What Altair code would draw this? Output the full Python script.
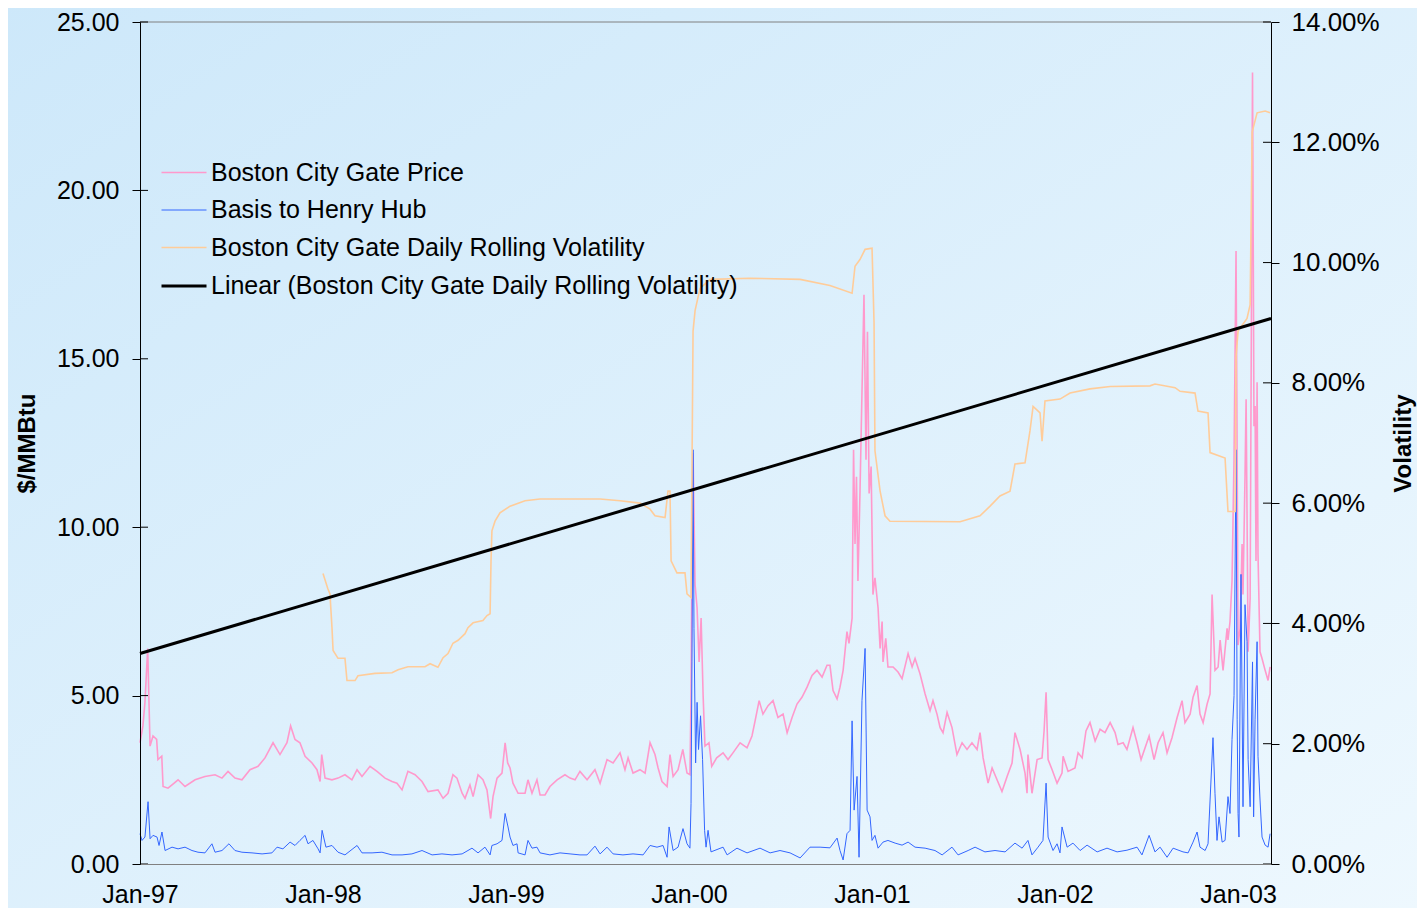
import altair as alt
import pandas as pd

W, H = 1131, 842
X_START, X_END = 1997.0, 2003.18

SERIES = [
    "Boston City Gate Price",
    "Basis to Henry Hub",
    "Boston City Gate Daily Rolling Volatility",
    "Linear (Boston City Gate Daily Rolling Volatility)",
]
COLORS = ["#ff99cc", "#3366ff", "#ffcc99", "#000000"]
WIDTHS = [1.6, 1.0, 1.6, 3.0]

X_TICKS = [1997, 1998, 1999, 2000, 2001, 2002, 2003]
LEFT_TICKS = [0, 5, 10, 15, 20, 25]
RIGHT_TICKS = [0, 2, 4, 6, 8, 10, 12, 14]

# Boston City Gate Price ($/MMBtu), time in decimal years
PRICE_T = [1997.000, 1997.016, 1997.027, 1997.042, 1997.055, 1997.071, 1997.091, 1997.098, 1997.119, 1997.126,
           1997.153, 1997.175, 1997.208, 1997.246, 1997.301, 1997.355, 1997.410, 1997.448, 1997.481, 1997.519,
           1997.557, 1997.601, 1997.645, 1997.683, 1997.727, 1997.765, 1997.803, 1997.823, 1997.847, 1997.874,
           1997.902, 1997.940, 1997.967, 1997.984, 1997.993, 1998.011, 1998.049, 1998.082, 1998.120, 1998.158,
           1998.186, 1998.213, 1998.257, 1998.295, 1998.339, 1998.377, 1998.404, 1998.432, 1998.464, 1998.503,
           1998.541, 1998.574, 1998.628, 1998.656, 1998.683, 1998.710, 1998.732, 1998.760, 1998.776, 1998.803,
           1998.820, 1998.847, 1998.874, 1998.896, 1998.916, 1998.929, 1998.951, 1998.978, 1998.995, 1999.009,
           1999.022, 1999.038, 1999.066, 1999.104, 1999.120, 1999.142, 1999.169, 1999.186, 1999.213, 1999.240,
           1999.279, 1999.322, 1999.350, 1999.377, 1999.404, 1999.443, 1999.486, 1999.514, 1999.552, 1999.585,
           1999.623, 1999.650, 1999.667, 1999.694, 1999.732, 1999.760, 1999.787, 1999.814, 1999.831, 1999.852,
           1999.880, 1999.896, 1999.913, 1999.940, 1999.966, 1999.989, 2000.005, 2000.011, 2000.016, 2000.022,
           2000.033, 2000.044, 2000.055, 2000.066, 2000.077, 2000.087, 2000.109, 2000.124, 2000.151, 2000.186,
           2000.213, 2000.240, 2000.279, 2000.317, 2000.344, 2000.361, 2000.383, 2000.404, 2000.432, 2000.459,
           2000.486, 2000.514, 2000.536, 2000.563, 2000.590, 2000.617, 2000.645, 2000.672, 2000.699, 2000.727,
           2000.754, 2000.770, 2000.787, 2000.809, 2000.825, 2000.842, 2000.863, 2000.874, 2000.891, 2000.899,
           2000.907, 2000.915, 2000.923, 2000.934, 2000.945, 2000.956, 2000.967, 2000.975, 2000.984, 2000.995,
           2001.005, 2001.016, 2001.033, 2001.044, 2001.055, 2001.060, 2001.075, 2001.087, 2001.115, 2001.142,
           2001.164, 2001.197, 2001.219, 2001.235, 2001.262, 2001.290, 2001.317, 2001.333, 2001.355, 2001.372,
           2001.388, 2001.410, 2001.437, 2001.464, 2001.492, 2001.519, 2001.546, 2001.574, 2001.590, 2001.607,
           2001.634, 2001.656, 2001.683, 2001.710, 2001.738, 2001.765, 2001.781, 2001.809, 2001.836, 2001.847,
           2001.852, 2001.874, 2001.902, 2001.929, 2001.940, 2001.951, 2001.962, 2001.984, 2002.011, 2002.038,
           2002.044, 2002.071, 2002.109, 2002.126, 2002.148, 2002.169, 2002.191, 2002.219, 2002.246, 2002.273,
           2002.301, 2002.328, 2002.344, 2002.372, 2002.393, 2002.426, 2002.448, 2002.470, 2002.492, 2002.514,
           2002.541, 2002.563, 2002.590, 2002.612, 2002.639, 2002.667, 2002.694, 2002.710, 2002.738, 2002.754,
           2002.776, 2002.792, 2002.809, 2002.831, 2002.847, 2002.858, 2002.874, 2002.891, 2002.902, 2002.918,
           2002.940, 2002.945, 2002.956, 2002.967, 2002.978, 2002.989, 2002.995, 2003.000, 2003.011, 2003.022,
           2003.027, 2003.038, 2003.044, 2003.055, 2003.066, 2003.079, 2003.087, 2003.093, 2003.098, 2003.104,
           2003.109, 2003.120, 2003.131, 2003.148, 2003.164, 2003.175]
PRICE_V = [3.6, 4.1, 4.8, 6.4, 3.5, 3.8, 3.7, 3.1, 3.2, 2.3,
           2.25, 2.35, 2.5, 2.3, 2.5, 2.6, 2.65, 2.55, 2.75, 2.55,
           2.5, 2.8, 2.9, 3.15, 3.6, 3.25, 3.6, 4.1, 3.7, 3.6,
           3.2, 3.0, 2.8, 2.45, 3.25, 2.55, 2.5, 2.55, 2.65, 2.5,
           2.8, 2.6, 2.9, 2.75, 2.55, 2.45, 2.4, 2.2, 2.75, 2.65,
           2.45, 2.15, 2.2, 1.95, 2.1, 2.65, 2.55, 2.1, 1.95, 2.35,
           2.0, 2.65, 2.5, 2.2, 1.35, 2.0, 2.55, 2.7, 3.6, 3.0,
           2.85, 2.4, 2.1, 2.1, 2.5, 2.1, 2.5, 2.05, 2.05, 2.3,
           2.5, 2.65, 2.55, 2.5, 2.75, 2.5, 2.8, 2.4, 3.1, 3.0,
           3.3, 2.8, 3.15, 2.7, 2.8, 2.7, 3.6, 3.25, 2.85, 2.45,
           2.3, 3.25, 2.6, 2.8, 3.4, 2.7, 2.65, 5.0, 9.0, 12.2,
           8.3, 7.6, 6.0, 7.3, 5.0, 3.5, 3.6, 2.9, 3.15, 3.3,
           3.1, 3.3, 3.6, 3.45, 3.8, 4.25, 4.85, 4.45, 4.7, 4.85,
           4.35, 4.45, 3.9, 4.35, 4.75, 4.95, 5.25, 5.6, 5.75, 5.55,
           5.9, 5.9, 5.15, 4.9, 5.25, 5.75, 6.9, 6.55, 7.3, 12.3,
           9.5, 11.5, 8.4, 11.0, 14.0, 16.9, 12.0, 15.8, 11.0, 11.8,
           8.0, 8.5, 7.6, 6.4, 7.2, 6.0, 6.7, 5.85, 5.85, 5.7,
           5.5, 6.25, 5.85, 6.1, 5.65, 5.05, 4.55, 4.85, 4.45, 4.05,
           3.9, 4.5, 4.05, 3.25, 3.6, 3.4, 3.6, 3.4, 3.9, 3.15,
           2.4, 2.85, 2.5, 2.15, 2.6, 3.0, 3.9, 3.4, 2.7, 2.1,
           3.25, 2.1, 3.1, 3.15, 3.95, 5.1, 3.1, 2.8, 2.4, 2.7,
           3.2, 2.75, 2.85, 3.3, 3.15, 3.95, 4.2, 3.65, 4.0, 3.9,
           4.2, 3.9, 3.55, 3.6, 3.4, 4.05, 3.6, 3.1, 3.45, 3.8,
           3.1, 3.6, 3.9, 3.3, 3.75, 4.35, 4.85, 4.2, 4.45, 4.95,
           5.3, 4.45, 4.2, 4.75, 5.05, 8.0, 5.75, 5.85, 6.65, 5.75,
           7.0, 6.65, 7.2, 8.4, 12.0, 18.2, 12.0, 6.5, 7.0, 9.5,
           8.0, 11.5, 13.8, 6.3, 7.9, 23.5, 13.0, 13.6, 9.0, 14.3,
           9.2, 6.3, 6.1, 5.75, 5.45, 5.85]

# Basis to Henry Hub ($/MMBtu)
BASIS_T = [1997.000, 1997.011, 1997.027, 1997.044, 1997.055, 1997.071, 1997.093, 1997.104, 1997.120, 1997.137,
           1997.175, 1997.208, 1997.246, 1997.284, 1997.317, 1997.355, 1997.393, 1997.410, 1997.448, 1997.486,
           1997.519, 1997.557, 1997.612, 1997.667, 1997.721, 1997.749, 1997.781, 1997.820, 1997.847, 1997.874,
           1997.902, 1997.918, 1997.945, 1997.973, 1997.984, 1997.995, 1998.016, 1998.049, 1998.082, 1998.120,
           1998.186, 1998.213, 1998.268, 1998.322, 1998.377, 1998.432, 1998.486, 1998.541, 1998.596, 1998.650,
           1998.705, 1998.760, 1998.814, 1998.847, 1998.885, 1998.913, 1998.923, 1998.951, 1998.978, 1998.995,
           1999.011, 1999.022, 1999.038, 1999.060, 1999.066, 1999.104, 1999.120, 1999.142, 1999.169, 1999.186,
           1999.240, 1999.295, 1999.350, 1999.404, 1999.443, 1999.486, 1999.514, 1999.552, 1999.585, 1999.639,
           1999.694, 1999.749, 1999.787, 1999.825, 1999.858, 1999.880, 1999.891, 1999.913, 1999.940, 1999.967,
           1999.989, 2000.005, 2000.011, 2000.016, 2000.022, 2000.027, 2000.036, 2000.044, 2000.052, 2000.063,
           2000.074, 2000.085, 2000.093, 2000.104, 2000.120, 2000.186, 2000.208, 2000.262, 2000.317, 2000.388,
           2000.443, 2000.497, 2000.552, 2000.607, 2000.661, 2000.716, 2000.770, 2000.809, 2000.825, 2000.842,
           2000.863, 2000.880, 2000.891, 2000.902, 2000.918, 2000.929, 2000.945, 2000.962, 2000.973, 2000.989,
           2001.000, 2001.016, 2001.033, 2001.060, 2001.087, 2001.126, 2001.164, 2001.197, 2001.235, 2001.290,
           2001.344, 2001.383, 2001.437, 2001.470, 2001.525, 2001.563, 2001.617, 2001.672, 2001.727, 2001.781,
           2001.820, 2001.852, 2001.874, 2001.907, 2001.934, 2001.951, 2001.962, 2001.989, 2002.011, 2002.027,
           2002.038, 2002.066, 2002.098, 2002.137, 2002.175, 2002.230, 2002.284, 2002.339, 2002.393, 2002.448,
           2002.475, 2002.514, 2002.546, 2002.574, 2002.612, 2002.645, 2002.699, 2002.727, 2002.754, 2002.776,
           2002.792, 2002.820, 2002.836, 2002.863, 2002.874, 2002.885, 2002.896, 2002.913, 2002.929, 2002.945,
           2002.956, 2002.967, 2002.978, 2002.989, 2002.995, 2003.000, 2003.005, 2003.016, 2003.027, 2003.038,
           2003.049, 2003.055, 2003.066, 2003.079, 2003.085, 2003.093, 2003.104, 2003.109, 2003.120, 2003.131,
           2003.148, 2003.164, 2003.175]
BASIS_V = [0.9, 0.7, 0.8, 1.85, 0.75, 0.85, 0.8, 0.55, 0.95, 0.4,
           0.5, 0.45, 0.5, 0.4, 0.35, 0.33, 0.6, 0.35, 0.4, 0.6,
           0.4, 0.35, 0.33, 0.3, 0.33, 0.5, 0.45, 0.65, 0.55, 0.7,
           0.85, 0.6, 0.7, 0.45, 0.33, 1.0, 0.5, 0.55, 0.35, 0.27,
           0.55, 0.33, 0.33, 0.35, 0.27, 0.27, 0.3, 0.4, 0.27, 0.3,
           0.27, 0.3, 0.47, 0.33, 0.5, 0.27, 0.55, 0.6, 0.7, 1.5,
           1.1, 0.8, 0.55, 0.6, 0.33, 0.27, 0.7, 0.47, 0.5, 0.33,
           0.27, 0.33, 0.3, 0.27, 0.27, 0.53, 0.3, 0.5, 0.3, 0.27,
           0.3, 0.27, 0.55, 0.5, 0.55, 0.2, 1.1, 0.4, 0.5, 1.05,
           0.6, 0.47, 1.8, 6.0, 12.3, 7.0, 3.0, 4.8, 3.4, 4.4,
           3.1, 1.0, 0.5, 1.0, 0.36, 0.5, 0.27, 0.47, 0.33, 0.47,
           0.33, 0.4, 0.33, 0.18, 0.5, 0.5, 0.48, 0.77, 0.4, 0.12,
           0.9, 1.0, 4.25, 1.6, 2.6, 0.2, 4.85, 6.4, 1.6, 1.4,
           0.7, 0.85, 0.47, 0.65, 0.7, 0.62, 0.56, 0.65, 0.5, 0.47,
           0.4, 0.27, 0.5, 0.27, 0.4, 0.5, 0.36, 0.4, 0.36, 0.62,
           0.47, 0.7, 0.27, 0.5, 0.7, 2.4, 0.8, 0.4, 0.6, 0.33,
           1.1, 0.5, 0.62, 0.4, 0.56, 0.36, 0.47, 0.36, 0.41, 0.5,
           0.27, 0.85, 0.36, 0.5, 0.2, 0.47, 0.36, 0.33, 0.65, 0.95,
           0.5, 0.4, 0.6, 3.75, 2.1, 0.7, 1.4, 0.65, 0.7, 2.0,
           1.5, 3.7, 5.0, 12.3, 4.3, 1.5, 0.8, 8.6, 1.7, 7.7,
           6.6, 3.1, 1.7, 6.0, 1.4, 4.3, 6.6, 3.2, 1.9, 0.8,
           0.56, 0.5, 0.9]

# Boston City Gate Daily Rolling Volatility (%)
VOL_T = [1998.000, 1998.026, 1998.038, 1998.049, 1998.055, 1998.082, 1998.120, 1998.131, 1998.175, 1998.191,
         1998.284, 1998.377, 1998.410, 1998.464, 1998.557, 1998.585, 1998.628, 1998.656, 1998.683, 1998.710,
         1998.738, 1998.776, 1998.792, 1998.820, 1998.874, 1998.896, 1998.913, 1998.918, 1998.923, 1998.940,
         1998.967, 1999.022, 1999.104, 1999.186, 1999.514, 1999.623, 1999.732, 1999.787, 1999.814, 1999.869,
         1999.885, 1999.896, 1999.902, 1999.934, 1999.978, 1999.989, 2000.011, 2000.016, 2000.022, 2000.033,
         2000.060, 2000.115, 2000.333, 2000.607, 2000.770, 2000.891, 2000.907, 2000.934, 2000.962, 2001.000,
         2001.011, 2001.016, 2001.044, 2001.071, 2001.098, 2001.481, 2001.590, 2001.645, 2001.699, 2001.754,
         2001.781, 2001.836, 2001.863, 2001.880, 2001.918, 2001.929, 2001.945, 2002.027, 2002.082, 2002.191,
         2002.301, 2002.519, 2002.546, 2002.656, 2002.683, 2002.765, 2002.781, 2002.836, 2002.847, 2002.929,
         2002.945, 2002.984, 2002.989, 2003.000, 2003.049, 2003.066, 2003.077, 2003.104, 2003.148, 2003.175]
VOL_V = [4.83, 4.58, 4.49, 3.93, 3.55, 3.42, 3.42, 3.05, 3.05, 3.13,
         3.17, 3.18, 3.23, 3.28, 3.28, 3.33, 3.27, 3.43, 3.50, 3.67,
         3.72, 3.83, 3.93, 4.01, 4.05, 4.13, 4.16, 5.04, 5.54, 5.70,
         5.84, 5.95, 6.04, 6.07, 6.07, 6.04, 6.00, 5.90, 5.79, 5.76,
         6.20, 6.20, 5.04, 4.84, 4.84, 4.49, 4.43, 6.50, 8.86, 9.20,
         9.57, 9.72, 9.74, 9.72, 9.62, 9.49, 9.94, 10.05, 10.22, 10.24,
         9.00, 6.87, 6.20, 5.79, 5.70, 5.69, 5.79, 5.95, 6.12, 6.20,
         6.65, 6.67, 7.20, 7.61, 7.50, 7.03, 7.70, 7.73, 7.83, 7.90,
         7.94, 7.95, 7.98, 7.92, 7.86, 7.83, 7.53, 7.50, 6.84, 6.75,
         5.86, 5.86, 8.44, 8.86, 9.07, 9.30, 12.17, 12.49, 12.52, 12.49]

# Linear trend of the volatility (%)
TREND_T = [1997.0, 2003.18]
TREND_V = [3.50, 9.07]


def frame(ts, vs, name):
    return pd.DataFrame({"year": ts, "value": vs, "series": name})


price_df = frame(PRICE_T, PRICE_V, SERIES[0])
basis_df = frame(BASIS_T, BASIS_V, SERIES[1])
vol_df = frame(VOL_T, VOL_V, SERIES[2])
trend_df = frame(TREND_T, TREND_V, SERIES[3])

FONT = "Liberation Sans"

x_enc = alt.X(
    "year:Q",
    scale=alt.Scale(domain=[X_START, X_END], nice=False, zero=False),
    axis=alt.Axis(orient="bottom", values=X_TICKS,
                  labelExpr="'Jan-' + substring(toString(datum.value), 2, 4)",
                  ticks=False, domainColor="#808080", labelFontSize=25, labelPadding=18,
                  labelFont=FONT, labelColor="black", grid=False, zindex=1, labelFlush=False),
    title=None,
)

y_left = alt.Y(
    "value:Q",
    scale=alt.Scale(domain=[0, 25], nice=False),
    axis=alt.Axis(orient="left", values=LEFT_TICKS, format=".2f", title="$/MMBtu",
                  titleFontSize=24, titleFontWeight="bold", titleFont=FONT, titlePadding=17,
                  labelFontSize=25, labelFont=FONT, labelPadding=13, labelColor="black",
                  tickSize=8, tickColor="black", domainColor="black", grid=False, zindex=1),
)

y_right = alt.Y(
    "value:Q",
    scale=alt.Scale(domain=[0, 14], nice=False),
    axis=alt.Axis(orient="right", values=RIGHT_TICKS,
                  labelExpr="format(datum.value, '.2f') + '%'", title="Volatility",
                  titleAngle=270, titleBaseline="top", titleFontSize=24, titleFontWeight="bold",
                  titleFont=FONT, titlePadding=12, labelFontSize=26, labelFont=FONT, labelPadding=12,
                  labelColor="black", tickSize=8, tickColor="black", domainColor="black",
                  grid=False, zindex=1),
)

legend_spec = alt.Legend(orient="none", legendX=20, legendY=127, title=None, symbolType="stroke",
                         symbolSize=2025, labelFontSize=25, labelFont=FONT, labelColor="black",
                         labelLimit=1000, labelOffset=3, rowPadding=1, padding=0)

color_enc = alt.Color("series:N", scale=alt.Scale(domain=SERIES, range=COLORS), legend=legend_spec)
width_enc = alt.StrokeWidth("series:N",
                            scale=alt.Scale(type="ordinal", domain=SERIES, range=WIDTHS),
                            legend=legend_spec)

one_row = pd.DataFrame({"k": [0]})

background = alt.Chart(one_row).mark_rect(
    fill={"gradient": "linear", "x1": 0, "y1": 0, "x2": 1, "y2": 1,
          "stops": [{"offset": 0, "color": "#cde8fa"}, {"offset": 1, "color": "#eef8fe"}]}
).encode(x=alt.value(-140), x2=alt.value(W + 150), y=alt.value(-22), y2=alt.value(H + 50))

top_border = alt.Chart(one_row).mark_rule(color="#808080", strokeWidth=1).encode(
    x=alt.value(0), x2=alt.value(W), y=alt.value(0))


def series_line(df):
    return alt.Chart(df).mark_line().encode(x=x_enc, color=color_enc, strokeWidth=width_enc)


price = series_line(price_df).encode(y=y_left)
basis = series_line(basis_df).encode(y=y_left)
left_inner_ticks = alt.Chart(pd.DataFrame({"value": LEFT_TICKS})).mark_rule(color="black").encode(
    y=y_left, x=alt.value(0), x2=alt.value(8))

vol = series_line(vol_df).encode(y=y_right)
trend = series_line(trend_df).encode(y=y_right)
right_inner_ticks = alt.Chart(pd.DataFrame({"value": RIGHT_TICKS})).mark_rule(color="black").encode(
    y=y_right, x=alt.value(W - 8), x2=alt.value(W))

left_group = alt.layer(price, basis, left_inner_ticks)
right_group = alt.layer(vol, trend, right_inner_ticks)

chart = alt.layer(background, top_border, left_group, right_group).resolve_scale(
    y="independent"
).properties(
    width=W, height=H,
    padding={"left": 132, "top": 14, "right": 146, "bottom": 44},
    autosize=alt.AutoSizeParams(type="none"),
).configure(
    font=FONT, background="#ddf0fc"
).configure_view(strokeWidth=0)

chart.save("out.html", embed_options={"renderer": "svg", "actions": False})
